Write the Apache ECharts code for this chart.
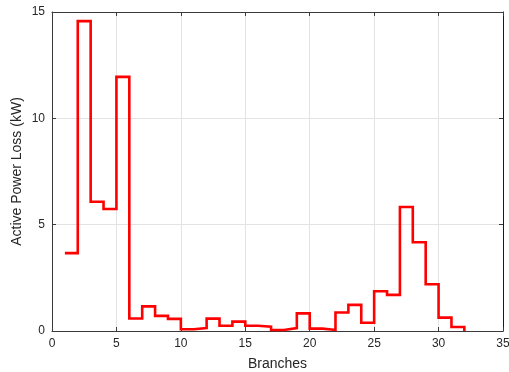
<!DOCTYPE html>
<html>
<head>
<meta charset="utf-8">
<script src="https://cdn.jsdelivr.net/npm/echarts@6/dist/echarts.min.js"></script>
<style>
html,body{margin:0;padding:0;background:#fff;}
#c{width:509px;height:372px;}
</style>
</head>
<body>
<div id="c"></div>
<script>
var branches = [1,2,3,4,5,6,7,8,9,10,11,12,13,14,15,16,17,18,19,20,21,22,23,24,25,26,27,28,29,30,31,32];
var lossKW = [3.66,14.57,6.08,5.74,11.95,0.59,1.16,0.71,0.57,0.08,0.14,0.58,0.25,0.44,0.25,0.2,0.05,0.14,0.83,0.11,0.05,0.87,1.23,0.39,1.87,1.70,5.83,4.17,2.20,0.63,0.19,0];
var xTicks = [0,5,10,15,20,25,30,35];
var yTicks = [0,5,10,15];

var axisColor = '#3a3a3a';
var gridColor = '#e3e3e3';
var font = 'Liberation Sans, Arial, sans-serif';
var chart = echarts.init(document.getElementById('c'), null, {renderer:'canvas'});
var data = branches.map(function(b,i){return [b, lossKW[i]];});
chart.setOption({
  animation:false,
  backgroundColor:'#fff',
  grid:{left:52,right:6,top:12,bottom:41,containLabel:false,outerBoundsMode:'none'},
  xAxis:[{
    type:'value',min:xTicks[0],max:xTicks[xTicks.length-1],interval:5,
    name:'Branches',nameLocation:'middle',nameGap:26,nameMoveOverlap:false,
    nameTextStyle:{fontFamily:font,fontSize:14,color:'#262626'},
    axisLine:{show:true,onZero:false,lineStyle:{color:axisColor,width:1}},
    axisTick:{show:true,inside:true,length:4,lineStyle:{color:axisColor}},
    axisLabel:{fontFamily:font,fontSize:12,color:'#262626',margin:7},
    splitLine:{show:true,lineStyle:{color:gridColor,width:1}}
  },{
    type:'value',position:'top',min:xTicks[0],max:xTicks[xTicks.length-1],interval:5,
    axisLine:{show:true,onZero:false,lineStyle:{color:axisColor,width:1}},
    axisTick:{show:true,inside:true,length:4,lineStyle:{color:axisColor}},
    axisLabel:{show:false},splitLine:{show:false}
  }],
  yAxis:[{
    type:'value',min:yTicks[0],max:yTicks[yTicks.length-1],interval:5,
    name:'Active Power Loss (kW)',nameLocation:'middle',nameGap:28,nameMoveOverlap:false,
    nameTextStyle:{fontFamily:font,fontSize:14,color:'#262626'},
    axisLine:{show:true,onZero:false,lineStyle:{color:axisColor,width:1}},
    axisTick:{show:true,inside:true,length:4,lineStyle:{color:axisColor}},
    axisLabel:{fontFamily:font,fontSize:12,color:'#262626',margin:7},
    splitLine:{show:true,lineStyle:{color:gridColor,width:1}}
  },{
    type:'value',position:'right',min:yTicks[0],max:yTicks[yTicks.length-1],interval:5,
    axisLine:{show:true,onZero:false,lineStyle:{color:'#1a1a1a',width:1}},
    axisTick:{show:true,inside:true,length:4,lineStyle:{color:axisColor}},
    axisLabel:{show:false},splitLine:{show:false}
  }],
  series:[{
    type:'line',step:'end',data:data,
    showSymbol:false,symbol:'none',
    lineStyle:{color:'#ff0000',width:2.6,join:'miter'},
    clip:false
  }]
});
</script>
</body>
</html>
